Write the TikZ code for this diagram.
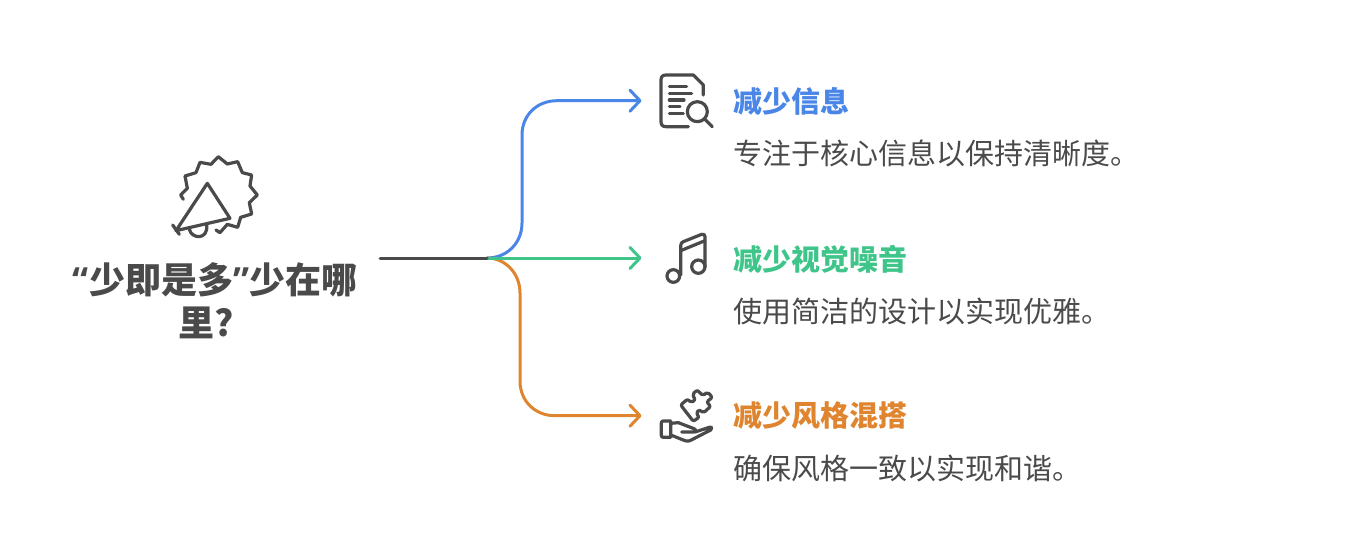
\documentclass[tikz,border=0pt]{standalone}
\usepackage{fontspec}
\setmainfont{Noto Sans CJK SC}
\newfontfamily\latinf{Open Sans}
\usetikzlibrary{arrows.meta}
\definecolor{ink}{HTML}{4A4A4A}
\definecolor{cblue}{HTML}{4A86E8}
\definecolor{cgreen}{HTML}{3FC58A}
\definecolor{corange}{HTML}{E0852F}
\tikzset{
  conn/.style={line width=3pt,line cap=round,line join=round},
  arrowed/.style={conn,-{Straight Barb[length=10pt,width=21pt,line width=3pt,round]}},
  icon/.style={draw=ink,line width=3.2pt,line cap=round,line join=round},
  head/.style={anchor=west,inner sep=0pt,font=\fontsize{29}{34}\selectfont\bfseries},
  desc/.style={anchor=west,inner sep=0pt,text=ink,font=\fontsize{29}{34}\selectfont},
  maintitle/.style={align=center,inner sep=0pt,text=ink,font=\fontsize{36}{43}\selectfont\bfseries}
}
\begin{document}
\begin{tikzpicture}[x=1pt,y=-1pt]
\useasboundingbox (0,0) rectangle (1349,557);
\node[maintitle] (title) at (215,301) {{\latinf “}少即是多{\latinf ”}少在哪\\里?\hspace*{18pt}};
\coordinate (start) at (380,258);
\coordinate (hub) at (487,258);
\coordinate (tipa) at (641.5,100.7);
\coordinate (tipb) at (641.5,258);
\coordinate (tipc) at (641.5,415.7);
\node[head,text=cblue] (h1) at (733,101) {减少信息};
\node[desc] (d1) at (733,153) {专注于核心信息以保持清晰度。};
\node[head,text=cgreen] (h2) at (733,259) {减少视觉噪音};
\node[desc] (d2) at (733,311) {使用简洁的设计以实现优雅。};
\node[head,text=corange] (h3) at (733,416) {减少风格混搭};
\node[desc] (d3) at (733,468) {确保风格一致以实现和谐。};
\draw[conn,cblue,arrowed] (hub) .. controls (507,258) and (522,243) .. (522,223) -- (522,135) .. controls (522,115) and (537,100.7) .. (557,100.7) -- (tipa);
\draw[conn,corange,arrowed] (hub) .. controls (505,258) and (520,273) .. (520,293) -- (520,381) .. controls (520,401) and (535,415.7) .. (555,415.7) -- (tipc);
\draw[conn,cgreen,arrowed] (hub) -- (tipb);
\draw[conn,ink] (start) -- (hub);
% burst icon
\begin{scope}[shift={(150,140)},x=0.3333pt,y=-0.3333pt]
\draw[icon] (100,178)--(92,165)--(112,145)--(105,108)--(138,98)--(150,67)--(183,73)--(205,50)--(232,72)--(263,65)--(277,98)--(305,105)--(300,138)--(322,165)--(298,188)--(305,222)--(272,232)--(263,262)--(232,253)--(210,278)--(198,270);
\draw[icon] (172,130)--(240,235)--(78,272)--cycle;
\draw[icon] (68,255)--(88,283);
\draw[icon] (118,268) .. controls (125,298) and (175,300) .. (170,256);
\end{scope}
% document icon
\begin{scope}[shift={(640,60)},x=0.3333pt,y=-0.3333pt]
\draw[icon] (190,105)--(190,75)--(160,45)--(78,45) .. controls (68,45) and (63,50) .. (63,60)--(63,185) .. controls (63,195) and (68,200) .. (78,200)--(145,200);
\draw[icon] (88,80)--(140,80) (88,100)--(155,100) (88,120)--(132,120) (88,140)--(120,140) (88,160)--(130,160);
\draw[icon] (172,155) circle[radius=30];
\draw[icon] (195,178)--(217,200);
\end{scope}
% music icon
\begin{scope}[shift={(640,220)},x=0.3333pt,y=-0.3333pt]
\draw[icon] (100,168) circle[radius=19];
\draw[icon] (175,140) circle[radius=20];
\draw[icon] (122,165)--(122,78) .. controls (122,70) and (125,67) .. (130,65)--(185,43) .. controls (191,41) and (195,44) .. (195,50)--(195,140);
\draw[icon] (122,92)--(195,62);
\end{scope}
% puzzle-hand icon
\begin{scope}[shift={(640,380)},x=0.3333pt,y=-0.3333pt]
\draw[icon] (70,123)--(92,123)--(92,172)--(70,172) .. controls (66,172) and (64,170) .. (64,166)--(64,129) .. controls (64,125) and (66,123) .. (70,123);
\draw[icon] (92,130)--(115,128)--(162,146) .. controls (170,150) and (168,156) .. (160,156)--(125,156);
\draw[icon] (165,156)--(208,142) .. controls (216,140) and (218,146) .. (212,150)--(150,182) .. controls (145,184) and (140,184) .. (135,182)--(92,165);
\draw[icon,rounded corners=2pt] (122,75)--(143,57)--(152,68)--(166,60)--(157,43)--(172,30)--(188,47)--(203,36)--(217,52)--(200,66)--(212,79)--(190,99)--(178,89)--(168,100)--(178,111)--(160,124)--cycle;
\end{scope}
\end{tikzpicture}
\end{document}
